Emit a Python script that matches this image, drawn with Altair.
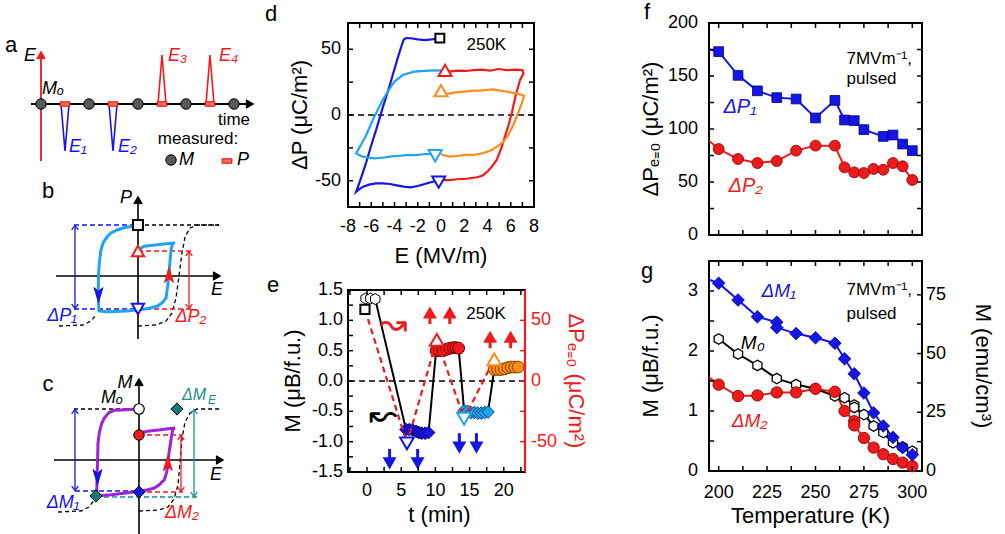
import altair as alt
import pandas as pd

FONT = "Liberation Sans"
BLUE = "#1515e8"
LBLUE = "#20a4f2"
RED = "#f01a1a"
ORANGE = "#ff8c1a"
PURPLE = "#9e22d8"
TEAL = "#1a9090"
TEAL_D = "#137a75"
GRAY = "#595959"

HEX = "M0,-1L0.866,-0.5L0.866,0.5L0,1L-0.866,0.5L-0.866,-0.5Z"
HEAD_UP = "M0,-1L0.6,1L0,0.5L-0.6,1Z"
HEAD_DOWN = "M0,1L0.6,-1L0,-0.5L-0.6,-1Z"
CHEV_UP = "M-0.8,0.6L0,-0.4L0.8,0.6"
CHEV_DOWN = "M-0.8,-0.6L0,0.4L0.8,-0.6"
PRECT = "M-1,-0.45L1,-0.45L1,0.45L-1,0.45Z"

# ====================== DATA ======================
# ---- panel d : hysteresis loops, E (MV/m) vs dP (uC/m^2)
d_blue_E = [-0.1, -0.8, -1.4, -2.0, -2.6, -3.0, -3.2, -3.4, -3.7, -4.0, -4.5, -5.0, -5.5, -6.0, -6.5, -7.0, -7.3,
            -7.1, -6.7, -6.2, -5.6, -5.0, -4.4, -3.8, -3.2, -2.6, -2.0, -1.4, -0.8, -0.1]
d_blue_P = [58.4, 57.5, 57.0, 57.5, 58.4, 58.5, 57.5, 52.5, 44, 35, 20, 6, -9, -23, -38, -51, -58.5,
            -57, -54.5, -53, -52, -52, -52.5, -53.5, -54.5, -55, -54, -52.5, -51, -49.5]
d_red_E = [-0.1, 0.7, 1.4, 2.2, 3.1, 3.6, 4.0, 4.4, 4.8, 5.2, 5.5, 5.8, 6.1, 6.4, 6.8, 7.1,
           7.0, 6.5, 5.7, 4.9, 4.25, 3.5, 2.8, 2.1, 1.4, 0.7, 0.0]
d_red_P = [-49.5, -49.5, -48.9, -48.5, -47.4, -46, -43, -39, -34, -25, -16.5, -8, 2, 14, 26.6, 31.7,
           34.2, 34.5, 34.2, 35, 33.7, 34.5, 34.2, 33.5, 33.7, 33, 33]
d_lblue_E = [0.0, -1.1, -2.3, -3.3, -4.0, -4.5, -5.1, -5.8, -6.5, -7.3,
             -6.8, -6.2, -5.7, -5.0, -4.25, -3.5, -2.8, -2.1, -1.4, -0.7, 0.0]
d_lblue_P = [34, 33.7, 33, 30.4, 25.4, 19, 10.1, -2.5, -16.5, -29.2,
             -31.5, -32.5, -33, -32.5, -31.5, -31, -30.4, -30.5, -29.7, -29.5, -29.2]
d_orange_E = [0.0, 0.7, 1.4, 2.1, 2.8, 3.4, 4.0, 4.4, 4.8, 5.3, 5.7, 6.1, 6.4, 6.7, 6.95, 7.15,
              6.9, 6.5, 6.1, 5.7, 5.1, 4.5, 3.9, 3.4, 2.8, 2.3, 1.7, 1.1, 0.5, -0.1]
d_orange_P = [-30, -31.7, -31.2, -30.4, -30.4, -29.5, -27.9, -26.5, -24.1, -21, -16.5, -10, -3.8, 3, 8.9, 14.5,
              15.5, 16.5, 17, 17.7, 18.5, 19.5, 19, 18.5, 18.5, 18, 17.5, 17, 16, 15]
d_marker_E = [-0.1, 0.35, 0.0, -0.5, -0.2]
d_marker_P = [58.5, 34.0, 18.5, -31.0, -51.0]
d_marker_shape = ["square", "triangle-up", "triangle-up", "triangle-down", "triangle-down"]
d_marker_color = ["black", RED, ORANGE, LBLUE, BLUE]
d_marker_size = [80, 170, 170, 170, 170]
d_x_labels = [-8, -6, -4, -2, 0, 2, 4, 6, 8]
d_x_label_text = ["-8", "-6", "-4", "-2", "0", "2", "4", "6", "8"]
d_y_labels = [-50, 0, 50]
d_y_label_text = ["-50", "0", "50"]
d_x_ticks = [-7, -6, -5, -4, -3, -2, -1, 0, 1, 2, 3, 4, 5, 6, 7]
d_y_ticks = [-50, -25, 0, 25, 50]

# ---- panel e : time series
e_M0_t = [-0.2, 0.5, 1.2]
e_M0_M = [1.36, 1.36, 1.35]
e_blue_t = [5.7, 6.2, 6.7, 7.2, 7.6, 8.0, 8.5, 9.0]
e_blue_M = [-0.80, -0.80, -0.81, -0.83, -0.85, -0.86, -0.86, -0.85]
e_red_t = [10.1, 10.6, 11.1, 11.6, 12.1, 12.6, 13.0, 13.4]
e_red_M = [0.50, 0.50, 0.50, 0.52, 0.54, 0.55, 0.55, 0.54]
e_lblue_t = [14.2, 14.7, 15.2, 15.7, 16.2, 16.7, 17.2, 17.7]
e_lblue_M = [-0.49, -0.50, -0.52, -0.52, -0.53, -0.53, -0.52, -0.51]
e_orange_t = [18.6, 19.1, 19.6, 20.1, 20.6, 21.1, 21.6, 22.1]
e_orange_M = [0.19, 0.19, 0.19, 0.20, 0.22, 0.23, 0.23, 0.23]
e_dP_t = [-0.3, 5.84, 10.2, 14.2, 18.6]
e_dP = [59, -51.4, 33.9, -31.1, 18]
e_dP_shape = ["square", "triangle-down", "triangle-up", "triangle-down", "triangle-up"]
e_dP_color = ["black", BLUE, RED, LBLUE, ORANGE]
e_dP_size = [85, 190, 190, 190, 190]
e_up_t = [9.2, 12.1, 18.0, 21.0]
e_up_base = [47, 47, 27, 27]
e_up_tip = [61, 61, 41, 41]
e_down_t = [3.3, 7.4, 13.5, 16.0]
e_down_base = [-1.12, -1.12, -0.86, -0.86]
e_down_tip = [-1.42, -1.42, -1.16, -1.16]
e_x_labels = [0, 5, 10, 15, 20]
e_x_label_text = ["0", "5", "10", "15", "20"]
e_yl_labels = [-1.5, -1.0, -0.5, 0.0, 0.5, 1.0, 1.5]
e_yl_label_text = ["-1.5", "-1.0", "-0.5", "0.0", "0.5", "1.0", "1.5"]
e_yr_labels = [-50, 0, 50]
e_yr_label_text = ["-50", "0", "50"]
e_x_ticks = [-2.5, 0, 2.5, 5, 7.5, 10, 12.5, 15, 17.5, 20, 22.5]
e_yl_ticks = [-1.25, -1.0, -0.75, -0.5, -0.25, 0, 0.25, 0.5, 0.75, 1.0, 1.25]
e_yr_ticks = [-50, -25, 0, 25, 50]

# ---- panel f : dP(E=0) vs temperature
f_P1_T = [200, 210, 220, 230, 240, 250, 260, 265, 270, 275, 285, 290, 295, 300]
f_P1 = [173, 150.6, 136, 129.6, 128.3, 110.4, 127, 108.5, 107.9, 99.4, 93, 94.3, 85.8, 79.6]
f_P2_T = [200, 210, 220, 230, 240, 250, 260, 265, 270, 275, 280, 285, 290, 295, 300]
f_P2 = [81.1, 71.7, 67.9, 69.8, 79.6, 84.3, 84.3, 63.8, 59.1, 58.5, 62.3, 61.6, 67.9, 64.8, 51.9]
f_edge_T = 195
f_P1_edge = 175
f_P2_edge = 89
f_y_labels = [0, 50, 100, 150, 200]
f_y_label_text = ["0", "50", "100", "150", "200"]
f_y_ticks = [25, 50, 75, 100, 125, 150, 175]
t_ticks = [200, 212.5, 225, 237.5, 250, 262.5, 275, 287.5, 300]

# ---- panel g : M vs temperature
g_M1_T = [200, 210, 220, 230, 230, 240, 250, 260, 265, 270, 275, 280, 285, 290, 295, 300]
g_M1 = [3.13, 2.85, 2.57, 2.48, 2.39, 2.29, 2.22, 2.13, 1.87, 1.62, 1.30, 0.97, 0.75, 0.56, 0.39, 0.27]
g_M0_T = [200, 210, 220, 230, 240, 250, 260, 265, 270, 270, 275, 280, 285, 290, 295, 300]
g_M0 = [2.20, 1.95, 1.76, 1.54, 1.44, 1.37, 1.25, 1.22, 1.10, 1.06, 0.94, 0.75, 0.64, 0.47, 0.40, 0.33]
g_M2_T = [200, 210, 220, 230, 240, 250, 260, 265, 270, 270, 275, 280, 285, 290, 295, 300]
g_M2 = [1.44, 1.25, 1.26, 1.31, 1.31, 1.37, 1.32, 1.00, 0.83, 0.76, 0.55, 0.39, 0.28, 0.20, 0.14, 0.08]
g_M1_edge = 3.19
g_M2_edge = 1.56
g_x_labels = [200, 225, 250, 275, 300]
g_x_label_text = ["200", "225", "250", "275", "300"]
g_yl_labels = [0, 1, 2, 3]
g_yl_label_text = ["0", "1", "2", "3"]
g_yr_labels = [0, 25, 50, 75]
g_yr_label_text = ["0", "25", "50", "75"]
g_yl_ticks = [0.5, 1, 1.5, 2, 2.5, 3]
g_yr_ticks = [12.5, 25, 37.5, 50, 62.5, 75]


# ====================== helpers ======================
def X(field, scale):
    return alt.X(field, scale=scale, axis=None)


def Y(field, scale):
    return alt.Y(field, scale=scale, axis=None)


def curve_frame(curves):
    rows = []
    for name, color, xs, ys in curves:
        for i, (x, y) in enumerate(zip(xs, ys)):
            rows.append({"x": x, "y": y, "seg": name, "c": color, "i": i})
    return pd.DataFrame(rows)


def curve_lines(df, xs, ys, width=2.2, clip=False):
    return alt.Chart(df).mark_line(strokeWidth=width, clip=clip).encode(
        x=X("x:Q", xs), y=Y("y:Q", ys), color=alt.Color("c:N", scale=None), detail="seg:N", order="i:Q")


def tick_rules(values, scale, W, H, axis="x", sides=("a", "b"), ln=5, color="black"):
    df = pd.DataFrame({"v": values})
    base = alt.Chart(df).mark_rule(color=color, strokeWidth=1.5)
    out = []
    if axis == "x":
        if "a" in sides:
            out.append(base.encode(x=X("v:Q", scale), y=alt.value(H), y2=alt.value(H - ln)))
        if "b" in sides:
            out.append(base.encode(x=X("v:Q", scale), y=alt.value(0), y2=alt.value(ln)))
    else:
        if "a" in sides:
            out.append(base.encode(y=Y("v:Q", scale), x=alt.value(0), x2=alt.value(ln)))
        if "b" in sides:
            out.append(base.encode(y=Y("v:Q", scale), x=alt.value(W), x2=alt.value(W - ln)))
    return out


def x_labels(vals, texts, scale, y, size=18):
    df = pd.DataFrame({"v": vals, "t": texts})
    return alt.Chart(df).mark_text(font=FONT, fontSize=size, align="center", baseline="middle",
                                   color="black").encode(x=X("v:Q", scale), y=alt.value(y), text="t:N")


def y_labels(vals, texts, scale, x, align="right", color="black", size=18):
    df = pd.DataFrame({"v": vals, "t": texts})
    return alt.Chart(df).mark_text(font=FONT, fontSize=size, align=align, baseline="middle",
                                   color=color).encode(y=Y("v:Q", scale), x=alt.value(x), text="t:N")


def free_text(t, x, y, size=22, angle=0, color="black", style="normal"):
    kw = dict(font=FONT, fontSize=size, align="center", baseline="middle", color=color, fontStyle=style)
    if angle:
        kw["angle"] = angle
    return alt.Chart(pd.DataFrame({"t": [t]})).mark_text(**kw).encode(
        text="t:N", x=alt.value(x), y=alt.value(y))


def text_at(items, xs, ys, size, style="normal", align="center"):
    df = pd.DataFrame(items, columns=["t", "x", "y", "c"])
    return alt.Chart(df).mark_text(font=FONT, fontSize=size, fontStyle=style, align=align,
                                   baseline="middle").encode(
        x=X("x:Q", xs), y=Y("y:Q", ys), text="t:N", color=alt.Color("c:N", scale=None))


# ====================== schematic (a-c) ======================
S_W, S_H = 255, 534
SX = alt.Scale(domain=[0, S_W], nice=False, zero=False)
SY = alt.Scale(domain=[0, S_H], reverse=True, nice=False, zero=False)


def sk_path(xs, ys, color, width=1.6, dash=None):
    df = pd.DataFrame({"x": xs, "y": ys, "i": list(range(len(xs)))})
    kw = dict(color=color, strokeWidth=width)
    if dash is not None:
        kw["strokeDash"] = dash
    return alt.Chart(df).mark_line(**kw).encode(x=X("x:Q", SX), y=Y("y:Q", SY), order="i:Q")


def sk_sym(xs, ys, shape, size, fill, stroke, sw=1.2):
    df = pd.DataFrame({"x": xs, "y": ys})
    return alt.Chart(df).mark_point(shape=shape, size=size, fill=fill, stroke=stroke, strokeWidth=sw,
                                    opacity=1, filled=True).encode(x=X("x:Q", SX), y=Y("y:Q", SY))


def sk_text(items, size, style="normal", align="center"):
    return text_at(items, SX, SY, size, style, align)


def dbl_arrow(x, y0, y1, color):
    return [sk_path([x, x], [y0 + 1, y1 - 1], color, 1.3),
            sk_sym([x], [y0 + 2.3], CHEV_UP, 70, "transparent", color, 1.3),
            sk_sym([x], [y1 - 2.3], CHEV_DOWN, 70, "transparent", color, 1.3)]


# panel a parts
a_pulse_blue_x = [[60, 64, 68], [108, 112, 116]]
a_pulse_red_x = [[157, 161, 165], [205, 209, 213]]
a_M_x = [40, 88, 137, 185, 233]
a_P_x = [64, 112, 161, 209]
# panel b parts
b_curve_x = [137, 131.7, 124, 116.7, 110, 106.7, 102.5, 100, 98.3, 97.5, 97.3, 97.5, 98, 105, 115, 125, 137, 147,
             156.7, 162, 165, 166.7, 168.3, 170, 171.7, 174, 165, 156.7, 150, 143.3, 139.5, 137.5]
b_curve_y = [202, 203.3, 204.5, 206.7, 210, 213.3, 219, 226.7, 240, 253, 266.7, 280, 288, 288.8, 288.5, 288, 287,
             285.5, 283, 279, 275, 263, 246.7, 226.7, 220, 220, 220.8, 221.7, 222.5, 223.3, 225.5, 228]
b_dash_right_x = [137, 155, 165, 171, 175, 178, 181, 184, 189, 196, 218]
b_dash_right_y = [303, 302, 298, 290, 275, 253, 230, 214, 205, 202, 202]
b_dash_left_x = [58, 82, 90, 95]
b_dash_left_y = [303, 302, 298, 292]
# panel c parts
c_curve_x = [138, 128, 120, 113.3, 108, 103.3, 100.5, 98.3, 97, 96.7, 96.3, 96, 95.5, 100, 110, 125, 137.7, 146,
             153.3, 158.5, 163.3, 165.5, 166.7, 168, 170, 171.7, 174, 167, 160, 153, 146.7, 141, 139.3]
c_curve_y = [386, 386.5, 387, 387.3, 389.5, 395, 401, 410, 420, 433.3, 447, 460, 473, 472.5, 471.7, 470, 468.3,
             467, 465, 461.5, 456.7, 450, 443.3, 430, 416.7, 406, 405, 405.7, 406.7, 407.5, 408.3, 409.5, 411]
c_dash_right_x = [138, 158, 167, 173, 177, 179, 181, 184, 189, 196, 220]
c_dash_right_y = [488, 487, 484, 476, 462, 440, 416, 399, 390, 386, 386]
c_dash_left_x = [57, 80, 88, 93]
c_dash_left_y = [489, 488, 484, 477]

sk = []
# --- a
sk.append(sk_path([40, 40], [138, 34], RED, 1.8))
sk.append(sk_sym([40], [32], "triangle-up", 70, RED, RED, 1))
sk.append(sk_path([30, 245], [81, 81], "black", 1.8))
sk.append(sk_sym([249], [81], "triangle-right", 70, "black", "black", 1))
for xs in a_pulse_blue_x:
    sk.append(sk_path(xs, [81, 128, 81], BLUE, 1.6))
for xs in a_pulse_red_x:
    sk.append(sk_path(xs, [81, 32, 81], RED, 1.6))
sk.append(sk_sym(a_P_x, [81] * 4, PRECT, 90, "#ff7050", RED, 1.2))
sk.append(sk_sym(a_M_x, [81] * 5, "circle", 110, GRAY, "black", 1))
sk.append(sk_sym([170], [137], "circle", 110, GRAY, "black", 1))
sk.append(sk_sym([226], [138], PRECT, 90, "#ff7050", RED, 1.2))
# --- b
sk.append(sk_path([137, 137], [316, 180], "black", 1.6))
sk.append(sk_sym([137], [177], "triangle-up", 70, "black", "black", 1))
sk.append(sk_path([55, 213], [253, 253], "black", 1.6))
sk.append(sk_sym([216], [253], "triangle-right", 70, "black", "black", 1))
sk.append(sk_path([137, 218], [202, 202], "black", 1.3, [4, 3]))
sk.append(sk_path(b_dash_right_x, b_dash_right_y, "black", 1.3, [4, 3]))
sk.append(sk_path(b_dash_left_x, b_dash_left_y, "black", 1.3, [4, 3]))
sk.append(sk_path([73, 137], [202, 202], BLUE, 1.3, [5, 3]))
sk.append(sk_path([73, 137], [286, 286], BLUE, 1.3, [5, 3]))
sk.append(sk_path([137, 192], [228, 228], RED, 1.3, [5, 3]))
sk.append(sk_path([137, 192], [286, 286], RED, 1.3, [5, 3]))
sk += dbl_arrow(74, 202, 286, BLUE)
sk += dbl_arrow(188, 228, 286, RED)
sk.append(sk_path(b_curve_x, b_curve_y, LBLUE, 3))
sk.append(sk_sym([97.5], [272], HEAD_DOWN, 220, BLUE, BLUE, 1))
sk.append(sk_sym([168], [252], HEAD_UP, 220, RED, RED, 1))
sk.append(sk_sym([137], [202], "square", 100, "white", "black", 2))
sk.append(sk_sym([137], [228], "triangle-up", 150, "white", RED, 2))
sk.append(sk_sym([137], [286], "triangle-down", 150, "white", BLUE, 2))
# --- c
sk.append(sk_path([138, 138], [520, 362], "black", 1.6))
sk.append(sk_sym([138], [359], "triangle-up", 70, "black", "black", 1))
sk.append(sk_path([53, 216], [437, 437], "black", 1.6))
sk.append(sk_sym([219], [437], "triangle-right", 70, "black", "black", 1))
sk.append(sk_path([73, 138], [386, 386], "black", 1.3, [4, 3]))
sk.append(sk_path(c_dash_right_x, c_dash_right_y, "black", 1.3, [4, 3]))
sk.append(sk_path(c_dash_left_x, c_dash_left_y, "black", 1.3, [4, 3]))
sk.append(sk_path([74, 138], [468, 468], BLUE, 1.3, [5, 3]))
sk.append(sk_path([138, 182], [412, 412], RED, 1.3, [5, 3]))
sk.append(sk_path([138, 182], [469, 469], RED, 1.3, [5, 3]))
sk.append(sk_path([95, 196], [474, 474], TEAL, 1.3, [5, 3]))
sk += dbl_arrow(74, 386, 468, BLUE)
sk += dbl_arrow(180, 412, 469, RED)
sk += dbl_arrow(193, 386, 474, TEAL)
sk.append(sk_path(c_curve_x, c_curve_y, PURPLE, 3))
sk.append(sk_sym([96.5], [454], HEAD_DOWN, 220, BLUE, BLUE, 1))
sk.append(sk_sym([166.8], [440], HEAD_UP, 220, RED, RED, 1))
sk.append(sk_sym([138], [386], "circle", 110, "white", "black", 1.2))
sk.append(sk_sym([138], [412], "circle", 110, RED, "black", 1))
sk.append(sk_sym([138], [469], "diamond", 150, BLUE, "black", 1))
sk.append(sk_sym([176, 95], [386, 473], "diamond", 150, TEAL_D, "black", 1))
# texts
sk.append(sk_text([("a", 10, 22, "black"), ("b", 47, 168, "black"), ("c", 47, 361, "black")], 22))
sk.append(sk_text([("time", 233, 97, "black"), ("measured:", 197, 116, "black")], 17))
sk.append(sk_text([("E", 29, 33, "black"), ("Mₒ", 52, 66, "black"),
                   ("P", 125, 175, "black"), ("E", 216, 267, "black"),
                   ("M", 124, 360, "black"), ("E", 215, 452, "black"), ("Mₒ", 111, 375, "black")],
                  18, "italic"))
sk.append(sk_text([("E₁", 68, 124, BLUE), ("E₂", 117, 124, BLUE), ("E₃", 167, 33, RED), ("E₄", 218, 33, RED),
                   ("M", 178, 137, "black"), ("P", 236, 137, "black")], 18, "italic", "left"))
sk.append(sk_text([("ΔP₁", 61, 293, BLUE), ("ΔP₂", 190, 294, RED),
                   ("ΔM₁", 62, 480, BLUE), ("ΔM₂", 181, 490, RED)], 18, "italic"))
sk.append(sk_text([("ΔM", 181, 372, TEAL)], 16, "italic", "left"))
sk.append(sk_text([("E", 207, 377, TEAL)], 12, "italic", "left"))

schem = alt.layer(*sk).properties(width=S_W, height=S_H, view=alt.ViewBackground(stroke="transparent"))

# ====================== panel d ======================
D_W, D_H = 186, 184
DX = alt.Scale(domain=[-8.0, 8.0], nice=False, zero=False)
DY = alt.Scale(domain=[-70, 70], nice=False, zero=False)

d_df = curve_frame([("b1", BLUE, d_blue_E, d_blue_P), ("r", RED, d_red_E, d_red_P),
                    ("lb", LBLUE, d_lblue_E, d_lblue_P), ("o", ORANGE, d_orange_E, d_orange_P)])
d_zero = alt.Chart(pd.DataFrame({"y": [0]})).mark_rule(color="black", strokeWidth=1.5, strokeDash=[6, 4]).encode(
    y=Y("y:Q", DY))
d_lines = curve_lines(d_df, DX, DY, 2.2)
d_mk = pd.DataFrame({"x": d_marker_E, "y": d_marker_P, "shape": d_marker_shape, "c": d_marker_color,
                     "s": d_marker_size})
d_markers = alt.Chart(d_mk).mark_point(strokeWidth=2, opacity=1).encode(
    x=X("x:Q", DX), y=Y("y:Q", DY),
    shape=alt.Shape("shape:N", scale=None), stroke=alt.Stroke("c:N", scale=None),
    fill=alt.value("white"), size=alt.Size("s:Q", scale=None))
d_text = text_at([("250K", 3.9, 53, "black")], DX, DY, 17)
d_layers = [d_zero, d_lines, d_markers, d_text, free_text("d", -77, -9),
            x_labels(d_x_labels, d_x_label_text, DX, D_H + 20),
            free_text("E (MV/m)", D_W / 2, D_H + 49),
            y_labels(d_y_labels, d_y_label_text, DY, -7),
            free_text("ΔP (μC/m²)", -48, D_H / 2, angle=270)]
d_layers += tick_rules(d_x_ticks, DX, D_W, D_H, "x")
d_layers += tick_rules(d_y_ticks, DY, D_W, D_H, "y")
d_chart = alt.layer(*d_layers).properties(width=D_W, height=D_H)

# ====================== panel e ======================
E_W, E_H = 177, 182
EX = alt.Scale(domain=[-2.78, 23.1], nice=False, zero=False)
EYL = alt.Scale(domain=[-1.5, 1.5], nice=False, zero=False)
EYR = alt.Scale(domain=[-75, 75], nice=False, zero=False)

e_groups = [("m0", e_M0_t, e_M0_M, HEX, "white", "black", 120),
            ("b", e_blue_t, e_blue_M, "diamond", BLUE, "#000060", 160),
            ("r", e_red_t, e_red_M, "circle", RED, "#700000", 140),
            ("lb", e_lblue_t, e_lblue_M, "diamond", LBLUE, "#004070", 160),
            ("o", e_orange_t, e_orange_M, "circle", ORANGE, "#804000", 140)]
rows = []
k = 0
for g, ts, ms, shp, fl, st, sz in e_groups:
    for t, m in zip(ts, ms):
        rows.append({"t": t, "M": m, "shape": shp, "fill": fl, "stroke": st, "s": sz, "i": k})
        k += 1
e_df = pd.DataFrame(rows)
e_line = alt.Chart(e_df).mark_line(color="black", strokeWidth=2).encode(
    x=X("t:Q", EX), y=Y("M:Q", EYL), order="i:Q")
e_pts = alt.Chart(e_df).mark_point(strokeWidth=1, opacity=1).encode(
    x=X("t:Q", EX), y=Y("M:Q", EYL),
    shape=alt.Shape("shape:N", scale=None), fill=alt.Fill("fill:N", scale=None),
    stroke=alt.Stroke("stroke:N", scale=None), size=alt.Size("s:Q", scale=None))
e_zero = alt.Chart(pd.DataFrame({"y": [0]})).mark_rule(color="black", strokeWidth=1.5, strokeDash=[6, 4]).encode(
    y=Y("y:Q", EYL))
e_down_df = pd.DataFrame({"t": e_down_t, "b": e_down_base, "h": [v + 0.09 for v in e_down_tip],
                          "tip": [v + 0.07 for v in e_down_tip]})
e_down_shaft = alt.Chart(e_down_df).mark_rule(color=BLUE, strokeWidth=3).encode(
    x=X("t:Q", EX), y=Y("b:Q", EYL), y2="h:Q")
e_down_head = alt.Chart(e_down_df).mark_point(shape="triangle-down", size=110, fill=BLUE, stroke=BLUE,
                                              filled=True, opacity=1).encode(x=X("t:Q", EX), y=Y("tip:Q", EYL))
e_left_text = text_at([("250K", 17.4, 1.1, "black")], EX, EYL, 17)
e_curly_l = text_at([("↜", 2.3, -0.57, "black")], EX, EYL, 34)
e_left_layers = [e_zero, e_line, e_pts, e_down_shaft, e_down_head, e_left_text, e_curly_l,
                 free_text("e", -75, -5),
                 x_labels(e_x_labels, e_x_label_text, EX, E_H + 19),
                 free_text("t (min)", E_W / 2 + 3, E_H + 43),
                 y_labels(e_yl_labels, e_yl_label_text, EYL, -5),
                 free_text("M (μB/f.u.)", -55, E_H / 2, angle=270)]
e_left_layers += tick_rules(e_x_ticks, EX, E_W, E_H, "x")
e_left_layers += tick_rules(e_yl_ticks, EYL, E_W, E_H, "y", sides=("a",))

e_dp_df = pd.DataFrame({"t": e_dP_t, "P": e_dP, "shape": e_dP_shape, "c": e_dP_color, "s": e_dP_size,
                        "i": list(range(len(e_dP)))})
e_dp_line = alt.Chart(e_dp_df).mark_line(color=RED, strokeWidth=2.2, strokeDash=[6, 4]).encode(
    x=X("t:Q", EX), y=Y("P:Q", EYR), order="i:Q")
e_dp_pts = alt.Chart(e_dp_df).mark_point(strokeWidth=2, opacity=1).encode(
    x=X("t:Q", EX), y=Y("P:Q", EYR),
    shape=alt.Shape("shape:N", scale=None), stroke=alt.Stroke("c:N", scale=None),
    fill=alt.value("white"), size=alt.Size("s:Q", scale=None))
e_up_df = pd.DataFrame({"t": e_up_t, "b": e_up_base, "h": [v - 7 for v in e_up_tip],
                        "tip": [v - 5 for v in e_up_tip]})
e_up_shaft = alt.Chart(e_up_df).mark_rule(color=RED, strokeWidth=3).encode(
    x=X("t:Q", EX), y=Y("b:Q", EYR), y2="h:Q")
e_up_head = alt.Chart(e_up_df).mark_point(shape="triangle-up", size=110, fill=RED, stroke=RED,
                                          filled=True, opacity=1).encode(x=X("t:Q", EX), y=Y("tip:Q", EYR))
e_curly_r = text_at([("↝", 3.8, 46, RED)], EX, EYR, 34)
e_red_edge = alt.Chart(pd.DataFrame({"a": [0]})).mark_rule(color=RED, strokeWidth=2.2).encode(
    x=alt.value(E_W), y=alt.value(0), y2=alt.value(E_H))
e_right_layers = [e_red_edge, e_dp_line, e_dp_pts, e_up_shaft, e_up_head, e_curly_r,
                  y_labels(e_yr_labels, e_yr_label_text, EYR, E_W + 6, align="left", color=RED),
                  free_text("ΔPₑ₌₀ (μC/m²)", E_W + 51, E_H / 2, angle=90, color=RED)]
e_right_layers += tick_rules(e_yr_ticks, EYR, E_W, E_H, "y", sides=("b",), color=RED)
e_chart = alt.layer(alt.layer(*e_left_layers), alt.layer(*e_right_layers)).resolve_scale(
    y="independent").properties(width=E_W, height=E_H)

# ====================== panel f ======================
F_W, F_H = 213, 212
TX = alt.Scale(domain=[195, 305], nice=False, zero=False)
FY = alt.Scale(domain=[0, 200], nice=False, zero=False)
f_line_df = curve_frame([("p1", BLUE, [f_edge_T] + f_P1_T, [f_P1_edge] + f_P1),
                         ("p2", RED, [f_edge_T] + f_P2_T, [f_P2_edge] + f_P2)])
f_lines = curve_lines(f_line_df, TX, FY, 2, True)
f_p1_pts = alt.Chart(pd.DataFrame({"x": f_P1_T, "y": f_P1})).mark_point(
    shape="square", size=95, fill=BLUE, stroke="#00007a", strokeWidth=0.8, filled=True, opacity=1).encode(
    x=X("x:Q", TX), y=Y("y:Q", FY))
f_p2_pts = alt.Chart(pd.DataFrame({"x": f_P2_T, "y": f_P2})).mark_point(
    shape="circle", size=120, fill=RED, stroke="#7a0000", strokeWidth=0.8, filled=True, opacity=1).encode(
    x=X("x:Q", TX), y=Y("y:Q", FY))
f_lab = text_at([("ΔP₁", 211, 121, BLUE), ("ΔP₂", 214, 46, RED)], TX, FY, 20, "italic")
f_note = text_at([("7MVm⁻¹,", 266, 166, "black"), ("pulsed", 266, 147, "black")], TX, FY, 17, "normal", "left")
f_layers = [f_lines, f_p1_pts, f_p2_pts, f_lab, f_note, free_text("f", -62, -11),
            y_labels(f_y_labels, f_y_label_text, FY, -11),
            free_text("ΔPₑ₌₀ (μC/m²)", -58, F_H / 2, angle=270)]
f_layers += tick_rules(t_ticks, TX, F_W, F_H, "x")
f_layers += tick_rules(f_y_ticks, FY, F_W, F_H, "y")
f_chart = alt.layer(*f_layers).properties(width=F_W, height=F_H)

# ====================== panel g ======================
G_W, G_H = 213, 210
GYL = alt.Scale(domain=[0, 3.5], nice=False, zero=False)
GYR = alt.Scale(domain=[0, 89.4], nice=False, zero=False)
g_line_df = curve_frame([("m0", "black", g_M0_T, g_M0),
                         ("m2", RED, [f_edge_T] + g_M2_T, [g_M2_edge] + g_M2),
                         ("m1", BLUE, [f_edge_T] + g_M1_T, [g_M1_edge] + g_M1)])
g_lines = curve_lines(g_line_df, TX, GYL, 2, True)
g_m0_pts = alt.Chart(pd.DataFrame({"x": g_M0_T, "y": g_M0})).mark_point(
    shape=HEX, size=110, fill="white", stroke="black", strokeWidth=1.3, filled=True, opacity=1).encode(
    x=X("x:Q", TX), y=Y("y:Q", GYL))
g_m2_pts = alt.Chart(pd.DataFrame({"x": g_M2_T, "y": g_M2})).mark_point(
    shape="circle", size=130, fill=RED, stroke="#7a0000", strokeWidth=0.8, filled=True, opacity=1).encode(
    x=X("x:Q", TX), y=Y("y:Q", GYL))
g_m1_pts = alt.Chart(pd.DataFrame({"x": g_M1_T, "y": g_M1})).mark_point(
    shape="diamond", size=160, fill=BLUE, stroke="#00007a", strokeWidth=0.8, filled=True, opacity=1).encode(
    x=X("x:Q", TX), y=Y("y:Q", GYL))
g_lab = text_at([("ΔM₁", 231, 3.0, BLUE), ("M₀", 217.6, 2.13, "black"), ("ΔM₂", 216, 0.83, RED)],
                TX, GYL, 19, "italic")
g_note = text_at([("7MVm⁻¹,", 266, 3.02, "black"), ("pulsed", 266, 2.62, "black")], TX, GYL, 17, "normal", "left")
g_left_layers = [g_lines, g_m0_pts, g_m2_pts, g_m1_pts, g_lab, g_note, free_text("g", -62, 10),
                 x_labels(g_x_labels, g_x_label_text, TX, G_H + 22),
                 free_text("Temperature (K)", G_W / 2 - 5, G_H + 45),
                 y_labels(g_yl_labels, g_yl_label_text, GYL, -11),
                 free_text("M (μB/f.u.)", -58, G_H / 2, angle=270)]
g_left_layers += tick_rules(t_ticks, TX, G_W, G_H, "x")
g_left_layers += tick_rules(g_yl_ticks, GYL, G_W, G_H, "y", sides=("a",))
g_right_layers = [y_labels(g_yr_labels, g_yr_label_text, GYR, G_W + 4, align="left"),
                  free_text("M (emu/cm³)", G_W + 61, G_H / 2, angle=90)]
g_right_layers += tick_rules(g_yr_ticks, GYR, G_W, G_H, "y", sides=("b",))
g_chart = alt.layer(alt.layer(*g_left_layers), alt.layer(*g_right_layers)).resolve_scale(
    y="independent").properties(width=G_W, height=G_H)

# ====================== layout ======================
col2 = alt.concat(d_chart, e_chart, columns=1, spacing=5, align="none")
col3 = alt.vconcat(f_chart, g_chart, spacing=14)
left = alt.hconcat(schem, col2, spacing=6)
chart = alt.hconcat(left, col3, spacing=51).properties(padding=0).configure_view(stroke="black", strokeWidth=2)

chart.save("out.html", embed_options={"renderer": "svg", "actions": False})
